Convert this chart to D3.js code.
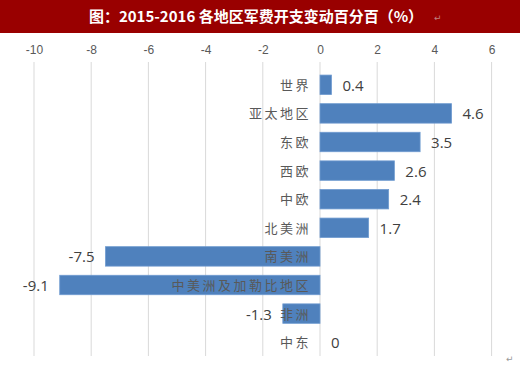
<!DOCTYPE html>
<html>
<head>
<meta charset="utf-8">
<script src="https://cdn.jsdelivr.net/npm/d3@7"></script>
<style>
  body { margin: 0; background: #fff; }
</style>
</head>
<body>
<script>
// chart data
var regions = ["世界", "亚太地区", "东欧", "西欧", "中欧", "北美洲", "南美洲", "中美洲及加勒比地区", "非洲", "中东"];
var changes = [0.4, 4.6, 3.5, 2.6, 2.4, 1.7, -7.5, -9.1, -1.3, 0];
var tickValues = [-10, -8, -6, -4, -2, 0, 2, 4, 6];
var title = "图：2015-2016 各地区军费开支变动百分百（%）";

var W = 520, H = 368;

var svg = d3.select("body")
    .append("svg")
    .attr("width", W)
    .attr("height", H);

// title bar
svg.append("rect")
    .attr("x", 0).attr("y", 0)
    .attr("width", W).attr("height", 33)
    .attr("fill", "#990000");

svg.append("text")
    .attr("x", 256)
    .attr("y", 22)
    .attr("text-anchor", "middle")
    .attr("fill", "#fff")
    .attr("font-family", "'Noto Sans CJK SC', sans-serif")
    .attr("font-size", 15)
    .attr("font-weight", "bold")
    .text(title);

svg.append("text")
    .attr("x", 434).attr("y", 21)
    .attr("fill", "#c08080")
    .attr("font-size", 9)
    .attr("font-family", "'DejaVu Sans', sans-serif")
    .text("↵");

// scales
var xScale = d3.scaleLinear()
    .domain([-10, 6])
    .range([34, 491.6]);

var yScale = d3.scaleBand()
    .domain(regions)
    .range([70.5, 356.5])
    .paddingInner(0.32)
    .paddingOuter(0.16);

// gridlines
svg.append("g")
    .selectAll("line")
    .data(tickValues)
    .enter()
    .append("line")
    .attr("x1", function(d) { return xScale(d); })
    .attr("x2", function(d) { return xScale(d); })
    .attr("y1", 62)
    .attr("y2", 356)
    .attr("stroke", "#d9d9d9")
    .attr("stroke-width", 1);

// top axis labels (plain hyphen minus like the original)
var axis = svg.append("g")
    .attr("transform", "translate(0,58)")
    .call(d3.axisTop(xScale)
        .tickValues(tickValues)
        .tickFormat(function(d) { return String(d); })
        .tickSize(0)
        .tickPadding(4));
axis.select(".domain").remove();
axis.selectAll("text")
    .attr("fill", "#595959")
    .attr("font-family", "'Liberation Sans', sans-serif")
    .attr("font-size", 12);

// bars
svg.append("g")
    .selectAll("rect")
    .data(changes)
    .enter()
    .append("rect")
    .attr("x", function(d) { return xScale(Math.min(0, d)); })
    .attr("y", function(d, i) { return yScale(regions[i]); })
    .attr("width", function(d) { return Math.abs(xScale(d) - xScale(0)); })
    .attr("height", yScale.bandwidth())
    .attr("fill", "#4f81bd")
    .attr("stroke", "#6f9bd0")
    .attr("stroke-width", 0.8);

// category labels
svg.append("g")
    .selectAll("text")
    .data(regions)
    .enter()
    .append("text")
    .attr("x", xScale(0) - 9)
    .attr("y", function(d) { return yScale(d) + yScale.bandwidth() / 2 + 5; })
    .attr("text-anchor", "end")
    .attr("fill", "#595959")
    .attr("font-family", "'Noto Sans CJK SC', sans-serif")
    .attr("font-size", 13)
    .attr("letter-spacing", 2.5)
    .text(function(d) { return d; });

// value labels
svg.append("g")
    .selectAll("text")
    .data(changes)
    .enter()
    .append("text")
    .attr("x", function(d) { return d < 0 ? xScale(d) - 11 : xScale(d) + 11; })
    .attr("y", function(d, i) { return yScale(regions[i]) + yScale.bandwidth() / 2 + 6; })
    .attr("text-anchor", function(d) { return d < 0 ? "end" : "start"; })
    .attr("fill", "#404040")
    .attr("font-family", "'Open Sans', sans-serif")
    .attr("font-size", 15)
    .text(function(d) { return d; });

svg.append("text")
    .attr("x", 506).attr("y", 362)
    .attr("fill", "#999")
    .attr("font-size", 9)
    .attr("font-family", "'DejaVu Sans', sans-serif")
    .text("↵");
</script>
</body>
</html>
